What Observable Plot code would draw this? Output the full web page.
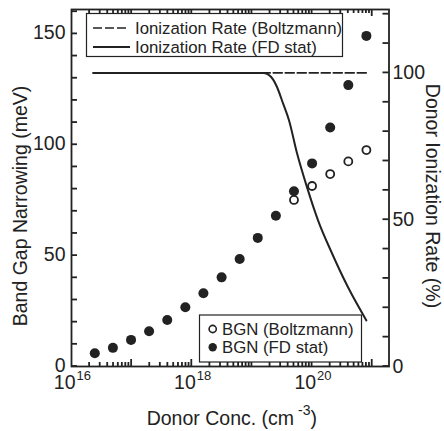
<!DOCTYPE html>
<html>
<head>
<meta charset="utf-8">
<script src="https://cdn.jsdelivr.net/npm/d3@7"></script>
<script src="https://cdn.jsdelivr.net/npm/@observablehq/plot@0.6"></script>
<style>
  html, body { margin: 0; padding: 0; background: #fff; }
  #chart { position: relative; width: 444px; height: 431px; }
  #chart svg { position: absolute; left: 0; top: 0; }
</style>
</head>
<body>
<div id="chart"></div>
<script>
// Donor concentration (cm^-3) of each band-gap-narrowing sample
const donorConc = [2.44e16, 4.88e16, 9.77e16, 1.95e17, 3.91e17, 7.81e17, 1.56e18, 3.13e18,
                   6.25e18, 1.25e19, 2.5e19, 5e19, 1e20, 2e20, 4e20, 8e20];
// Band gap narrowing (meV) with Fermi-Dirac statistics
const bgnFD = [6.0, 8.4, 12.0, 15.9, 21.0, 26.7, 33.0, 40.2, 48.5, 58.0, 68.0, 79.0, 91.6, 107.8, 126.9, 149.1];
// Band gap narrowing (meV) with Boltzmann statistics (where it departs from FD)
const boltzConc = [5e19, 1e20, 2e20, 4e20, 8e20];
const bgnBoltz = [75.1, 81.4, 86.8, 92.5, 97.6];

// Donor ionization rate (%)
const ionFDConc = [2.3e16, 1.53e19, 1.85e19, 2.24e19, 2.61e19, 3.29e19, 4.14e19, 5.62e19,
                   8.25e19, 1.26e20, 2.15e20, 3.98e20, 8e20];
const ionFD = [100, 100, 99.5, 97.8, 95.2, 89.6, 83.8, 72.6, 61.0, 49.7, 38.5, 26.9, 15.7];
const ionBoltzConc = [2.3e16, 8e20];
const ionBoltz = [100, 100];

// Axis labelling
const xTickValues = [1e16, 1e18, 1e20];
const xTickExponents = ["16", "18", "20"];
const leftTickLabels = [0, 50, 100, 150];
const rightTickLabels = [0, 50, 100];
const ionLegend = ["Ionization Rate (Boltzmann)", "Ionization Rate (FD stat)"];
const bgnLegend = ["BGN (Boltzmann)", "BGN (FD stat)"];
const xTitle = ["Donor Conc. (cm", "-3", ")"];
const yTitleLeft = "Band Gap Narrowing (meV)";
const yTitleRight = "Donor Ionization Rate (%)";

const W = 444, H = 431;
const margins = {marginLeft: 71, marginRight: 55.5, marginTop: 9, marginBottom: 65};
const frameLeft = margins.marginLeft, frameRight = W - margins.marginRight;
const frameTop = margins.marginTop, frameBottom = H - margins.marginBottom;
const xDomain = [1e16, 1.9e21];
const ink = "#222";
const font = `"Liberation Sans", Arial, Helvetica, sans-serif`;

const logTicks = d3.scaleLog().domain(xDomain).ticks();
const isDecade = t => Math.abs(Math.log10(t) - Math.round(Math.log10(t))) < 1e-9;

const fdRows = donorConc.map((c, i) => ({c, v: bgnFD[i]}));
const boltzRows = boltzConc.map((c, i) => ({c, v: bgnBoltz[i]}));
const ionFDRows = ionFDConc.map((c, i) => ({c, v: ionFD[i]}));
const ionBoltzRows = ionBoltzConc.map((c, i) => ({c, v: ionBoltz[i]}));
const xLabelRows = xTickValues.map((c, i) => ({c, e: xTickExponents[i]}));

// Back layer: ionization rate on the right-hand axis
const back = Plot.plot({
  width: W, height: H, ...margins,
  style: {background: "white", fontFamily: font, color: ink, overflow: "visible"},
  x: {type: "log", domain: xDomain, axis: null},
  y: {domain: [0, 121.6]},
  marks: [
    Plot.line(ionBoltzRows, {x: "c", y: "v", stroke: ink, strokeWidth: 1.6, strokeDasharray: "9,3"}),
    Plot.line(ionFDRows, {x: "c", y: "v", stroke: ink, strokeWidth: 2, curve: "monotone-x"}),
    Plot.axisY({anchor: "right", ticks: rightTickLabels, tickSize: 0, tickPadding: 3.5,
                label: null, fontSize: 19.5, fill: ink})
  ]
});

// Front layer: band gap narrowing on the left-hand axis
const front = Plot.plot({
  width: W, height: H, ...margins,
  style: {background: "transparent", fontFamily: font, color: ink, overflow: "visible"},
  x: {type: "log", domain: xDomain, axis: null},
  y: {domain: [0, 161]},
  marks: [
    Plot.frame({stroke: ink, strokeWidth: 1.8}),
    Plot.axisY({anchor: "left", ticks: leftTickLabels, tickSize: 0, tickPadding: 6, dy: -1,
                label: null, fontSize: 19.5, fill: ink}),
    Plot.text(xLabelRows, {x: "c", frameAnchor: "bottom", text: () => "10", textAnchor: "end",
                           dx: 4, dy: 22, fontSize: 19.5, fill: ink}),
    Plot.text(xLabelRows, {x: "c", frameAnchor: "bottom", text: "e", textAnchor: "start",
                           dx: 5, dy: 13.5, fontSize: 13, fill: ink}),
    Plot.dot(boltzRows, {x: "c", y: "v", r: 4, stroke: ink, strokeWidth: 1.8, fill: "none"}),
    Plot.dot(fdRows, {x: "c", y: "v", r: 5, fill: ink, stroke: "none"})
  ]
});

const chart = document.getElementById("chart");
chart.append(back, front);

// Inward tick marks, placed with the plots' own scales
const xs = front.scale("x"), yl = front.scale("y"), yr = back.scale("y");
const tg = d3.select(front).append("g")
  .attr("stroke", ink).attr("stroke-width", 1.8).attr("fill", "none");
const tick = (x1, y1, x2, y2) => tg.append("line").attr("x1", x1).attr("y1", y1).attr("x2", x2).attr("y2", y2);
for (const v of d3.range(0, 161, 10)) { const y = yl.apply(v); tick(frameLeft, y, frameLeft + 6, y); }
for (const v of d3.range(0, 121, 10)) { const y = yr.apply(v); tick(frameRight - 6, y, frameRight, y); }
for (const t of logTicks) {
  const x = xs.apply(t), len = isDecade(t) ? 7 : 4;
  if (x <= frameLeft + 0.5 || x >= frameRight - 0.5) continue;
  tick(x, frameBottom, x, frameBottom - len);
  tick(x, frameTop, x, frameTop + len);
}

// Axis titles and legends
const g = d3.select(front).append("g").attr("fill", ink).attr("font-family", font);

const xt = g.append("text").attr("x", 146.7).attr("y", 425).attr("font-size", 19.5).attr("text-anchor", "start");
xt.append("tspan").text(xTitle[0]);
xt.append("tspan").attr("dx", 4).attr("dy", -10).attr("font-size", 14).text(xTitle[1]);
xt.append("tspan").attr("dy", 10).text(xTitle[2]);

g.append("text").attr("transform", "translate(26.5,206) rotate(-90)")
  .attr("text-anchor", "middle").attr("font-size", 19.5).text(yTitleLeft);
g.append("text").attr("transform", "translate(425.5,196) rotate(90)")
  .attr("text-anchor", "middle").attr("font-size", 19.5).text(yTitleRight);

// Ionization legend
const l1 = g.append("g");
l1.append("rect").attr("x", 86.5).attr("y", 13.5).attr("width", 256).attr("height", 43)
  .attr("fill", "white").attr("stroke", ink).attr("stroke-width", 1.2);
l1.append("line").attr("x1", 93).attr("x2", 128).attr("y1", 28).attr("y2", 28)
  .attr("stroke", ink).attr("stroke-width", 1.6).attr("stroke-dasharray", "9,3");
l1.append("line").attr("x1", 93).attr("x2", 130).attr("y1", 47).attr("y2", 47)
  .attr("stroke", ink).attr("stroke-width", 2);
ionLegend.forEach((t, i) => {
  l1.append("text").attr("x", 135).attr("y", 33.5 + 19 * i).attr("font-size", 16.8)
    .attr("text-anchor", "start").text(t);
});

// Band gap narrowing legend
const l2 = g.append("g");
l2.append("rect").attr("x", 199.5).attr("y", 315).attr("width", 162).attr("height", 47)
  .attr("fill", "white").attr("stroke", ink).attr("stroke-width", 1.2);
l2.append("circle").attr("cx", 212.7).attr("cy", 329).attr("r", 3.6)
  .attr("fill", "none").attr("stroke", ink).attr("stroke-width", 1.6);
l2.append("circle").attr("cx", 212.7).attr("cy", 347.3).attr("r", 4.2).attr("fill", ink);
bgnLegend.forEach((t, i) => {
  l2.append("text").attr("x", 222).attr("y", 335 + 18.3 * i).attr("font-size", 16.8)
    .attr("text-anchor", "start").text(t);
});
</script>
</body>
</html>
